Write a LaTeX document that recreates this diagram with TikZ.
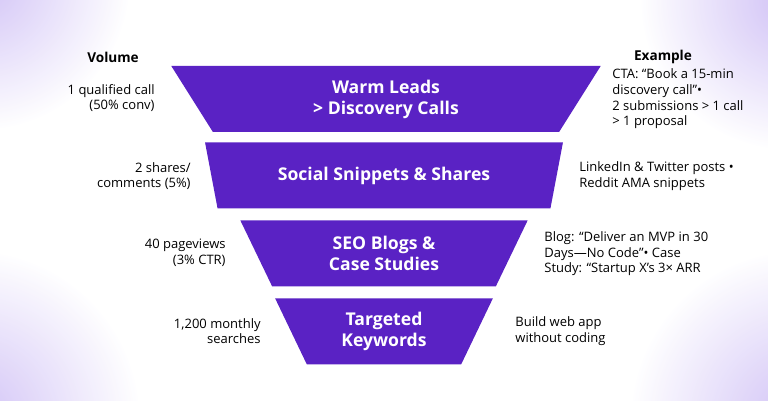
\documentclass[tikz,border=0pt]{standalone}
\usepackage{fontspec}
\setmainfont{Open Sans}
\usetikzlibrary{positioning,shapes.geometric}
\definecolor{funnel}{HTML}{5A22C4}
\definecolor{glow}{HTML}{B9A2F2}
\tikzset{
    stage/.style={
        trapezium, shape border rotate=180,
        trapezium stretches=true,
        trapezium angle=65.6,
        fill=funnel, draw=none,
        minimum height=33pt,
        text=white, font={\fontsize{8.8pt}{10.5pt}\selectfont\bfseries},
        align=center, inner sep=0pt
    },
    volume/.style={
        anchor=east, align=right, inner sep=0pt,
        font={\fontsize{6.5pt}{7.8pt}\selectfont}
    },
    example/.style={
        anchor=west, align=left, inner sep=0pt,
        font={\fontsize{6.5pt}{7.8pt}\selectfont}
    },
    header/.style={font={\fontsize{6.8pt}{8pt}\selectfont\bfseries}},
}
\begin{document}
\begin{tikzpicture}[x=0.5pt, y=-0.5pt]
\useasboundingbox (0,0) rectangle (768,401);
\begin{scope}
\clip (0,0) rectangle (768,401);
\shade[inner color=glow, outer color=white] (-20,-20) circle (150);
\shade[inner color=glow, outer color=white] (-30,420) circle (170);
\shade[inner color=glow, outer color=white] (790,0) circle (150);
\shade[inner color=glow, outer color=white] (800,420) circle (170);
\fill[white, opacity=0.35] (0,0) rectangle (768,401);
\end{scope}
% funnel
\node[stage, minimum width=216pt] (warm) at (386,99) {Warm Leads\\ > Discovery Calls};
\node[stage, minimum width=179pt] (social) at (384,175.5) {Social Snippets \& Shares};
\node[stage, minimum width=144pt] (seo) at (384,253.5) {SEO Blogs \&\\ Case Studies};
\node[stage, minimum width=109pt] (keys) at (384,331.5) {Targeted\\ Keywords};
% headers
\node[header] (volhead) at (113,57) {Volume};
\node[header] (exhead) at (663,57) {Example};
% volume column
\node[volume] (v1) at (155,98) {1 qualified call\\(50\% conv)};
\node[volume] (v2) at (191,176) {2 shares/\\comments (5\%)};
\node[volume] (v3) at (226,253) {40 pageviews\\(3\% CTR)};
\node[volume] (v4) at (261,331) {1,200 monthly\\searches};
% example column
\node[example] (e1) at (612,99) {CTA: “Book a 15-min\\discovery call”•\\2 submissions > 1 call\\> 1 proposal};
\node[example] (e2) at (579,176) {LinkedIn \& Twitter posts •\\Reddit AMA snippets};
\node[example] (e3) at (544,254) {Blog: “Deliver an MVP in 30\\Days—No Code”• Case\\Study: “Startup X’s 3× ARR};
\node[example] (e4) at (515,331) {Build web app\\without coding};
\end{tikzpicture}
\end{document}
